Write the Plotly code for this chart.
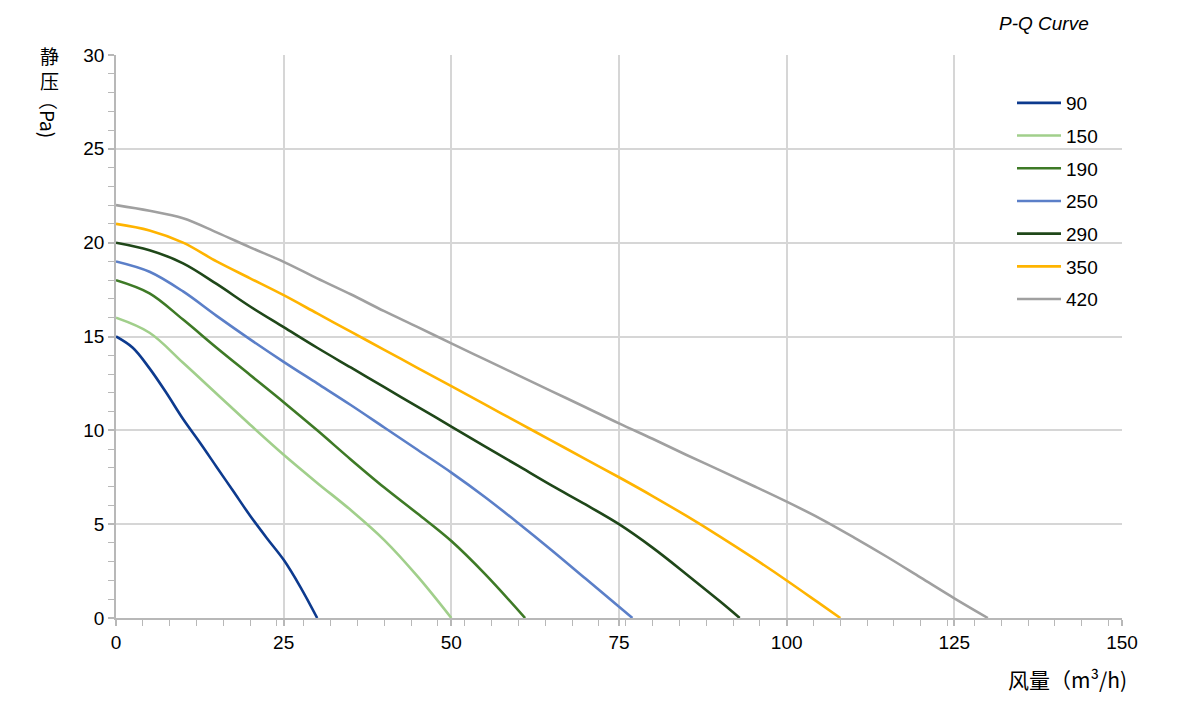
import plotly.graph_objects as go

# ---- data ----
names = ["90", "150", "190", "250", "290", "350", "420"]
colors = ["#0d3a8e", "#a1cf8b", "#3e7a26", "#5b7fc8", "#1f4719", "#ffb400", "#a0a0a0"]

q90 = [0, 2.5, 5, 7.5, 10, 12.5, 15, 17.5, 20, 22.5, 25, 27.5, 30]
p90 = [15, 14.4, 13.3, 12.0, 10.6, 9.35, 8.05, 6.75, 5.45, 4.25, 3.1, 1.65, 0]

q150 = [0, 5, 10, 15, 20, 25, 30, 35, 40, 45, 50]
p150 = [16, 15.2, 13.6, 11.95, 10.3, 8.7, 7.2, 5.75, 4.15, 2.2, 0]

q190 = [0, 5, 10, 15, 20, 25, 30, 35, 40, 45, 50, 55, 61]
p190 = [18, 17.3, 15.9, 14.4, 12.95, 11.5, 10.0, 8.45, 6.95, 5.55, 4.1, 2.35, 0]

q250 = [0, 5, 10, 15, 20, 25, 30, 35, 40, 45, 50, 55, 60, 65, 70, 77]
p250 = [19, 18.45, 17.4, 16.1, 14.85, 13.65, 12.5, 11.35, 10.15, 8.95, 7.75, 6.45, 5.05, 3.6, 2.1, 0]

q290 = [0, 5, 10, 15, 20, 25, 30, 35, 40, 45, 50, 55, 60, 65, 70, 75, 80, 85, 90, 93]
p290 = [20, 19.6, 18.9, 17.8, 16.6, 15.5, 14.4, 13.35, 12.3, 11.25, 10.2, 9.15, 8.1, 7.05, 6.05, 5.0, 3.75, 2.35, 0.9, 0]

q350 = [0, 5, 10, 15, 20, 25, 30, 35, 40, 45, 50, 55, 60, 65, 70, 75, 80, 85, 90, 95, 100, 105, 108]
p350 = [21, 20.65, 20.0, 19.0, 18.1, 17.2, 16.23, 15.26, 14.29, 13.32, 12.35, 11.38, 10.41, 9.44, 8.47, 7.5, 6.5, 5.45, 4.35, 3.2, 2.0, 0.75, 0]

q420 = [0, 5, 10, 15, 20, 25, 30, 35, 40, 45, 50, 55, 60, 65, 70, 75, 80, 85, 90, 95, 100, 105, 110, 115, 120, 125, 130]
p420 = [22, 21.7, 21.3, 20.55, 19.75, 18.98, 18.1, 17.25, 16.35, 15.5, 14.63, 13.78, 12.93, 12.08, 11.23, 10.37,
        9.55, 8.7, 7.88, 7.05, 6.2, 5.3, 4.3, 3.25, 2.15, 1.05, 0]

series_q = [q90, q150, q190, q250, q290, q350, q420]
series_p = [p90, p150, p190, p250, p290, p350, p420]

x_ticks = [0, 25, 50, 75, 100, 125, 150]
y_ticks = [0, 5, 10, 15, 20, 25, 30]

NUMFONT = "Liberation Sans, Arial, sans-serif"
CJKFONT = "Noto Sans CJK SC, Liberation Sans, sans-serif"

fig = go.Figure()
for i, n in enumerate(names):
    fig.add_trace(go.Scatter(
        x=series_q[i], y=series_p[i], mode="lines", name=n,
        legendgroup=n,
        line=dict(color=colors[i], width=2.6, shape="spline", smoothing=1.0),
    ))

L, R, T, B = 116, 78, 55, 83
W, H = 1200, 701
pw, ph = W - L - R, H - T - B

def px_x(px):
    return (px - L) / pw

def px_y(py):
    return (H - B - py) / ph

gridc = "#d6d6d6"
tickc = "#b8b8b8"

fig.update_layout(
    width=W, height=H,
    margin=dict(l=L, r=R, t=T, b=B),
    paper_bgcolor="white", plot_bgcolor="white",
    font=dict(family=NUMFONT, size=19, color="#000000"),
    showlegend=True,
    legend=dict(
        x=px_x(1012), y=px_y(84), xanchor="left", yanchor="top",
        bgcolor="rgba(0,0,0,0)", font=dict(family=NUMFONT, size=19, color="#000"),
        tracegroupgap=5, itemwidth=44,
    ),
    xaxis=dict(
        range=[0, 150], tickvals=x_ticks, ticktext=[str(v) for v in x_ticks],
        showgrid=True, gridcolor=gridc, gridwidth=1.5,
        showline=True, linecolor=tickc, linewidth=1.5,
        ticks="outside", ticklen=6, tickcolor=tickc, tickwidth=1.5,
        tickfont=dict(family=NUMFONT, size=19, color="#000"),
        zeroline=False,
        minor=dict(dtick=4, tick0=0, ticks="outside", ticklen=6, tickcolor=tickc, tickwidth=1.2, showgrid=False),
    ),
    yaxis=dict(
        range=[0, 30], tickvals=y_ticks, ticktext=[str(v) for v in y_ticks],
        showgrid=True, gridcolor=gridc, gridwidth=1.5,
        showline=True, linecolor=tickc, linewidth=1.5,
        ticks="outside", ticklen=6, tickcolor=tickc, tickwidth=1.5,
        tickfont=dict(family=NUMFONT, size=19, color="#000"),
        zeroline=False,
        minor=dict(dtick=1, tick0=0, ticks="outside", ticklen=6, tickcolor=tickc, tickwidth=1.2, showgrid=False),
    ),
    annotations=[
        dict(text="<i>P-Q Curve</i>", x=px_x(997), y=px_y(24), xref="paper", yref="paper",
             xanchor="left", yanchor="middle", showarrow=False,
             font=dict(family=NUMFONT, size=19, color="#000")),
        dict(text="风量（m³/h)", x=px_x(1129), y=px_y(679), xref="paper", yref="paper",
             xanchor="right", yanchor="middle", showarrow=False,
             font=dict(family=CJKFONT, size=21, color="#000")),
        dict(text="静<br>压", x=px_x(49), y=px_y(68), xref="paper", yref="paper",
             xanchor="center", yanchor="middle", showarrow=False,
             font=dict(family=CJKFONT, size=19, color="#000")),
        dict(text="（Pa)", x=px_x(49), y=px_y(114), xref="paper", yref="paper",
             xanchor="center", yanchor="middle", showarrow=False, textangle=90,
             font=dict(family=CJKFONT, size=19, color="#000")),
    ],
)

fig.write_html("out.html")
